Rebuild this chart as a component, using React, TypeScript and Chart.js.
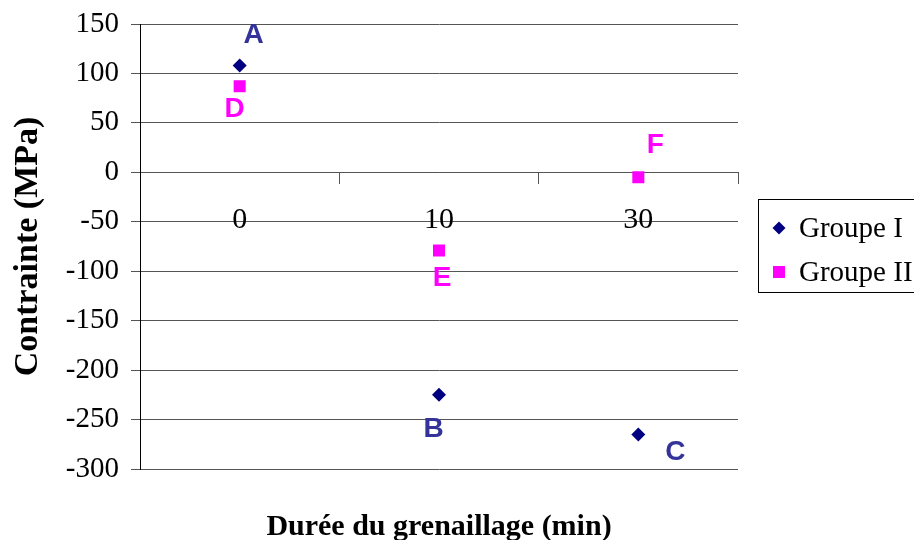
import React, { useEffect, useRef } from 'react';
import { Chart, registerables } from 'chart.js';

Chart.register(...registerables);

// ---- data ----
const categories = ['0', '10', '30'];
const seriesNames = ['Groupe I', 'Groupe II'];
const groupIValues = [108, -225, -265];
const groupIIValues = [87, -79, -5];
const groupILetters = ['A', 'B', 'C'];
const groupIILetters = ['D', 'E', 'F'];
const yMin = -300;
const yMax = 150;
const yStep = 50;
const xTitle = 'Durée du grenaillage (min)';
const yTitle = 'Contrainte (MPa)';

// ---- styles ----
const SERIF = '"Liberation Serif", "Times New Roman", Times, serif';
const SANS = '"Liberation Sans", Arial, Helvetica, sans-serif';
const NAVY = '#000080';
const MAGENTA = '#FF00FF';
const LETTER_COLORS = ['#333399', '#FF00FF'];
const GRID = '#555555';
// label offsets (px) from each point, per series
const LETTER_OFFSETS = [
  [[14, -33], [-5.5, 32], [37, 16]],
  [[-5, 20.5], [3, 26], [17, -34]],
];

function drawDiamond(ctx: CanvasRenderingContext2D, x: number, y: number, r: number) {
  ctx.beginPath();
  ctx.moveTo(x, y - r);
  ctx.lineTo(x + r, y);
  ctx.lineTo(x, y + r);
  ctx.lineTo(x - r, y);
  ctx.closePath();
  ctx.fill();
}

const overlayPlugin = {
  id: 'overlay',
  afterDatasetsDraw(chart: any) {
    const ctx: CanvasRenderingContext2D = chart.ctx;
    ctx.save();
    // point letters
    ctx.font = `bold 28px ${SANS}`;
    ctx.textAlign = 'center';
    ctx.textBaseline = 'alphabetic';
    chart.data.datasets.forEach((_ds: any, di: number) => {
      const meta = chart.getDatasetMeta(di);
      const letters = di === 0 ? groupILetters : groupIILetters;
      ctx.fillStyle = LETTER_COLORS[di];
      meta.data.forEach((pt: any, i: number) => {
        const [dx, dy] = LETTER_OFFSETS[di][i];
        ctx.fillText(letters[i], pt.x + dx, pt.y + dy + 10);
      });
    });

    // legend
    const ca = chart.chartArea;
    const lx = ca.right + 20.5;
    const ly = 199.5;
    ctx.strokeStyle = '#000';
    ctx.lineWidth = 1;
    ctx.strokeRect(lx, ly, 180, 93);
    ctx.font = `29px ${SERIF}`;
    ctx.textAlign = 'left';
    ctx.textBaseline = 'middle';
    const rows = [228, 272];
    chart.data.datasets.forEach((ds: any, di: number) => {
      const y = rows[di];
      const mx = lx + 20.5;
      ctx.fillStyle = ds.backgroundColor;
      if (di === 0) drawDiamond(ctx, mx, y, 6.5);
      else ctx.fillRect(mx - 6, y - 6, 12, 12);
      ctx.fillStyle = '#000';
      ctx.fillText(ds.label, lx + 40.5, y + 1);
    });

    // x axis title
    ctx.font = `bold 30px ${SERIF}`;
    ctx.textAlign = 'center';
    ctx.textBaseline = 'alphabetic';
    ctx.fillText(xTitle, (ca.left + ca.right) / 2, 535);
    ctx.restore();
  },
};

export default function App() {
  const canvasRef = useRef<HTMLCanvasElement | null>(null);

  useEffect(() => {
    document.body.style.margin = '0';
    const canvas = canvasRef.current;
    if (!canvas) return;
    const chart = new Chart(canvas, {
      type: 'line',
      data: {
        labels: categories,
        datasets: [
          {
            label: seriesNames[0],
            data: groupIValues,
            showLine: false,
            pointStyle: 'rectRot',
            pointRadius: 7,
            pointHoverRadius: 7,
            pointBorderWidth: 0,
            backgroundColor: NAVY,
            borderColor: NAVY,
          },
          {
            label: seriesNames[1],
            data: groupIIValues,
            showLine: false,
            pointStyle: 'rect',
            pointRadius: 8.5,
            pointHoverRadius: 8.5,
            pointBorderWidth: 0,
            backgroundColor: MAGENTA,
            borderColor: MAGENTA,
          },
        ],
      },
      options: {
        animation: false,
        responsive: false,
        maintainAspectRatio: false,
        devicePixelRatio: 1,
        layout: { padding: { left: 0, top: 24, right: 176, bottom: 71 } },
        plugins: {
          legend: { display: false },
          tooltip: { enabled: false },
          title: { display: false },
        },
        scales: {
          x: {
            type: 'category',
            offset: true,
            position: { y: 0 } as any,
            grid: {
              display: true,
              drawOnChartArea: false,
              drawTicks: true,
              tickLength: 11,
              offset: true,
              color: GRID,
              lineWidth: 1,
            },
            border: { display: true, color: GRID, width: 1 },
            ticks: {
              font: { family: SERIF, size: 30 },
              color: '#000',
              padding: 19,
              maxRotation: 0,
            },
          },
          y: {
            type: 'linear',
            min: yMin,
            max: yMax,
            ticks: {
              stepSize: yStep,
              font: { family: SERIF, size: 29 },
              color: '#000',
              padding: 12,
            },
            grid: {
              color: GRID,
              lineWidth: 1,
              tickLength: 9,
              drawTicks: true,
            },
            border: { display: true, color: '#000', width: 1 },
            title: {
              display: true,
              text: yTitle,
              font: { family: SERIF, size: 34, weight: 'bold' },
              color: '#000',
              padding: { top: 8, bottom: 0 },
            },
            afterFit: (s: any) => {
              s.width = 140;
              s.paddingTop = 0;
              s.paddingBottom = 0;
            },
          },
        },
      } as any,
      plugins: [overlayPlugin],
    });
    return () => chart.destroy();
  }, []);

  return (
    <div style={{ width: 914, height: 540, position: 'relative' }}>
      <canvas ref={canvasRef} width={914} height={540} style={{ display: 'block' }} />
    </div>
  );
}
